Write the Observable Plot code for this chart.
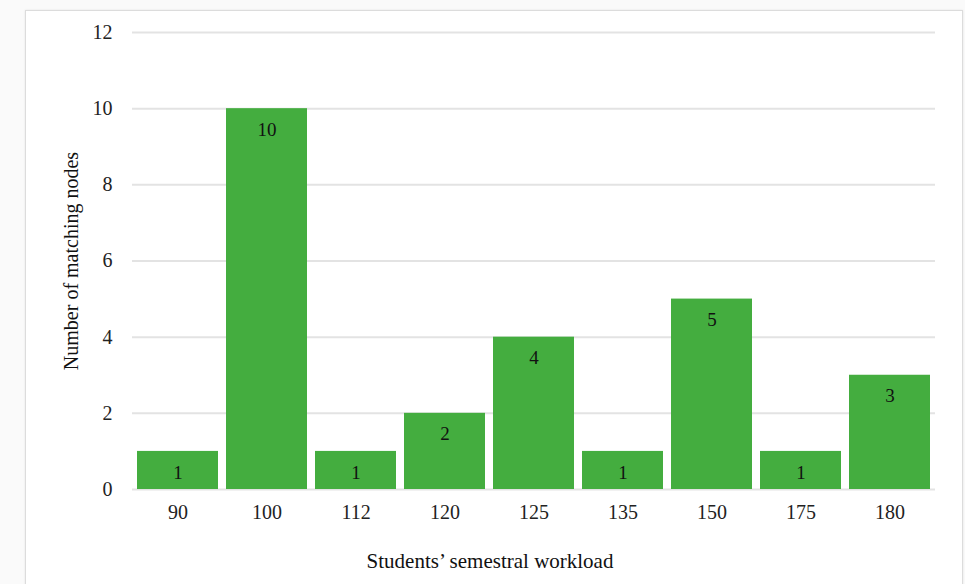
<!DOCTYPE html>
<html>
<head>
<meta charset="utf-8">
<script src="https://cdn.jsdelivr.net/npm/d3@7"></script>
<script src="https://cdn.jsdelivr.net/npm/@observablehq/plot@0.6"></script>
<style>
  html, body { margin: 0; padding: 0; background: #fafafa; }
  #wrap { position: relative; width: 965px; height: 584px; overflow: hidden; background: #fafafa; }
  #frame { position: absolute; left: 25px; top: 10px; width: 936px; height: 600px; border: 1.5px solid #dcdcdc; background: #fff; box-shadow: 0 0 2px #e6e6e6; }
  #chart { position: absolute; left: 0; top: 0; }
  #chart svg { background: transparent; }
</style>
</head>
<body>
<div id="wrap">
  <div id="frame"></div>
  <div id="chart"></div>
</div>
<script>
const workloads = ["90", "100", "112", "120", "125", "135", "150", "175", "180"];
const nodeCounts = [1, 10, 1, 2, 4, 1, 5, 1, 3];
const yTicks = [0, 2, 4, 6, 8, 10, 12];

const data = workloads.map((w, i) => ({workload: w, count: nodeCounts[i]}));

const chart = Plot.plot({
  width: 965,
  height: 584,
  marginLeft: 128,
  marginRight: 26,
  marginTop: 32,
  marginBottom: 95,
  style: {fontFamily: "'Liberation Serif', 'DejaVu Serif', serif", fontSize: "20px", color: "#222", background: "transparent"},
  x: {domain: workloads, padding: 0.09, label: null},
  y: {domain: [0, 12], ticks: yTicks, label: null},
  marks: [
    Plot.ruleY(yTicks, {stroke: "#e3e3e3", strokeWidth: 2, insetLeft: 4, insetRight: 4}),
    Plot.barY(data, {x: "workload", y: "count", fill: "#44ad3f"}),
    Plot.text(data, {x: "workload", y: "count", text: d => String(d.count), dy: 21, fill: "#111", fontSize: 19}),
    Plot.axisX({tickSize: 0, tickPadding: 15, fontSize: 20, label: null}),
    Plot.axisY({ticks: yTicks, tickSize: 0, tickPadding: 16, fontSize: 20, label: null}),
    Plot.text(["Students\u2019 semestral workload"], {frameAnchor: "bottom", lineAnchor: "bottom", dx: -44, dy: 78, fontSize: 21, fill: "#111"}),
    Plot.text(["Number of matching nodes"], {frameAnchor: "left", textAnchor: "middle", lineAnchor: "middle", dx: -57, rotate: -90, fontSize: 20, fill: "#111"})
  ]
});
document.getElementById("chart").appendChild(chart);
</script>
</body>
</html>
